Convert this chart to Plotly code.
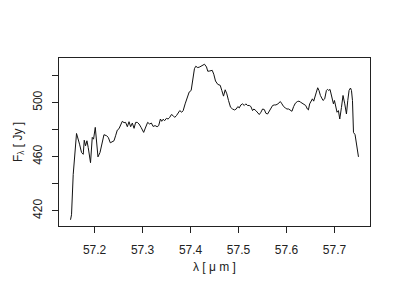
import plotly.graph_objects as go

# wavelength (micron) and flux density (Jy)
wavelength = [
    57.1499, 57.1520, 57.1555, 57.1624, 57.1687, 57.1729, 57.1764, 57.1785, 57.1812, 57.1841,
    57.1868, 57.1916, 57.1952, 57.1979, 57.2015, 57.2042, 57.2071, 57.2113, 57.2146, 57.2196,
    57.2251, 57.2286, 57.2328, 57.2370, 57.2405, 57.2438, 57.2474, 57.2509, 57.2543, 57.2578,
    57.2614, 57.2647, 57.2683, 57.2718, 57.2752, 57.2787, 57.2823, 57.2856, 57.2891, 57.2927,
    57.2969, 57.3023, 57.3058, 57.3106, 57.3148, 57.3184, 57.3219, 57.3261, 57.3303, 57.3336,
    57.3372, 57.3399, 57.3428, 57.3461, 57.3497, 57.3532, 57.3566, 57.3601, 57.3637, 57.3670,
    57.3706, 57.3741, 57.3775, 57.3816, 57.3846, 57.3887, 57.3929, 57.3971, 57.4013, 57.4040,
    57.4081, 57.4109, 57.4150, 57.4192, 57.4242, 57.4290, 57.4332, 57.4359, 57.4401, 57.4451,
    57.4484, 57.4520, 57.4568, 57.4618, 57.4651, 57.4687, 57.4722, 57.4756, 57.4791, 57.4833,
    57.4875, 57.4916, 57.4952, 57.4985, 57.5015, 57.5048, 57.5084, 57.5119, 57.5152, 57.5188,
    57.5223, 57.5257, 57.5292, 57.5319, 57.5361, 57.5397, 57.5432, 57.5466, 57.5501, 57.5537,
    57.5570, 57.5605, 57.5641, 57.5674, 57.5710, 57.5745, 57.5779, 57.5820, 57.5871, 57.5904,
    57.5939, 57.5975, 57.6008, 57.6044, 57.6079, 57.6113, 57.6148, 57.6184, 57.6225, 57.6259,
    57.6294, 57.6330, 57.6363, 57.6399, 57.6434, 57.6455, 57.6482, 57.6518, 57.6539, 57.6566,
    57.6593, 57.6622, 57.6649, 57.6676, 57.6706, 57.6733, 57.6760, 57.6795, 57.6831, 57.6852,
    57.6879, 57.6906, 57.6927, 57.6956, 57.6977, 57.6998, 57.7025, 57.7052, 57.7081, 57.7109,
    57.7144, 57.7177, 57.7213, 57.7248, 57.7276, 57.7303, 57.7332, 57.7353, 57.7374, 57.7395,
    57.7428, 57.7463, 57.7499,
]
flux = [
    413.3, 417.0, 446.8, 477.1, 469.2, 463.0, 461.7, 472.1, 468.0, 471.7,
    466.7, 455.5, 474.2, 472.9, 481.6, 471.7, 459.8, 463.0, 469.2, 476.2,
    475.4, 474.2, 470.2, 471.2, 471.7, 475.4, 479.6, 480.6, 482.9, 486.1,
    485.1, 485.3, 482.1, 485.8, 482.1, 484.8, 480.9, 485.3, 485.3, 484.1,
    481.6, 477.9, 481.1, 485.3, 484.1, 484.8, 482.3, 482.9, 482.1, 482.9,
    487.8, 486.1, 487.6, 486.6, 488.3, 487.8, 489.0, 491.1, 490.3, 489.0,
    490.3, 492.0, 494.0, 492.8, 494.0, 499.0, 503.9, 507.7, 508.9, 516.4,
    525.0, 526.8, 525.8, 526.3, 527.6, 528.3, 526.3, 523.1, 523.3, 523.8,
    520.9, 515.9, 513.4, 512.7, 508.9, 504.7, 509.4, 506.4, 501.5, 496.5,
    495.2, 494.5, 495.2, 497.0, 496.0, 498.2, 499.0, 497.8, 499.0, 497.8,
    497.8, 497.0, 494.0, 495.2, 494.0, 492.8, 491.1, 492.8, 495.2, 494.8,
    492.0, 491.5, 494.0, 495.2, 497.8, 498.2, 498.2, 499.0, 500.7, 499.0,
    497.0, 496.0, 495.2, 495.2, 494.5, 493.5, 497.0, 499.5, 500.7, 501.0,
    500.2, 499.5, 499.0, 497.8, 495.2, 494.5, 499.0, 501.5, 502.7, 501.0,
    505.2, 507.7, 510.9, 508.9, 505.2, 502.7, 501.5, 502.7, 508.9, 509.7,
    508.9, 509.7, 506.4, 503.9, 499.0, 501.5, 497.8, 492.8, 494.0, 487.8,
    496.3, 505.2, 499.0, 491.5, 501.5, 508.9, 510.7, 508.9, 501.5, 477.9,
    476.2, 468.0, 459.8,
]

x_ticks = [57.2, 57.3, 57.4, 57.5, 57.6, 57.7]
x_tick_labels = ["57.2", "57.3", "57.4", "57.5", "57.6", "57.7"]
y_ticks = [420, 460, 500]
y_tick_labels = ["420", "460", "500"]
y_minor_step = 20

FONT = "Liberation Sans, Arial, Helvetica, sans-serif"

fig = go.Figure()
fig.add_trace(go.Scatter(
    x=wavelength, y=flux, mode="lines",
    line=dict(color="#111111", width=1),
    showlegend=False, hoverinfo="skip",
))

axis_common = dict(
    showline=True, linecolor="#222222", linewidth=1, mirror=True,
    ticks="outside", ticklen=6, tickwidth=1, tickcolor="#222222",
    showgrid=False, zeroline=False,
    tickfont=dict(family=FONT, size=12, color="#222222"),
)

fig.update_layout(
    width=400, height=300,
    margin=dict(l=59, r=30, t=58, b=74),
    paper_bgcolor="white", plot_bgcolor="white",
    xaxis=dict(range=[57.1259, 57.7739], tickmode="array",
               tickvals=x_ticks, ticktext=x_tick_labels,
               ticklabelstandoff=7,
               title=dict(text="λ [ μ m ]", standoff=6,
                          font=dict(family=FONT, size=12, color="#222222")),
               **axis_common),
    yaxis=dict(range=[408.7, 532.9], tickmode="array",
               tickvals=y_ticks, ticktext=y_tick_labels,
               tickangle=-90, ticklabelstandoff=5,
               minor=dict(ticks="outside", ticklen=6, tickwidth=1,
                          tickcolor="#222222", dtick=y_minor_step,
                          tick0=y_ticks[0], showgrid=False),
               title=dict(text="F<sub>λ</sub> [ Jy ]", standoff=6,
                          font=dict(family=FONT, size=12, color="#222222")),
               **axis_common),
)

fig.write_html("out.html")
